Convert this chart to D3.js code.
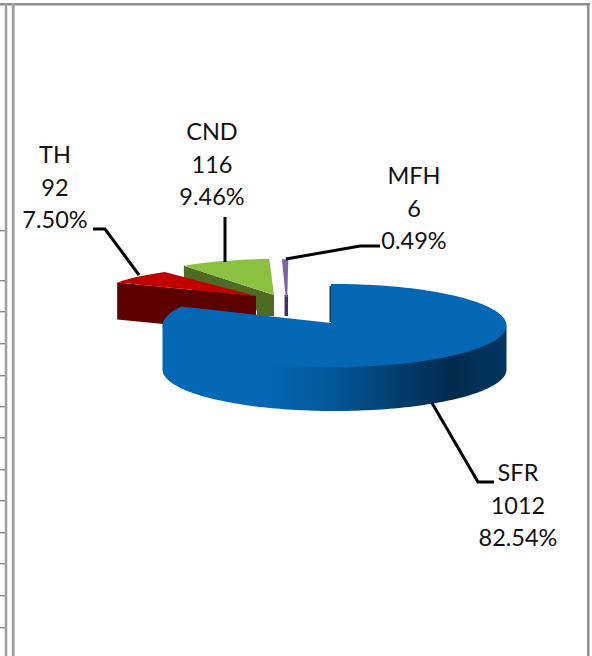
<!DOCTYPE html>
<html><head><meta charset="utf-8">
<script src="https://cdn.jsdelivr.net/npm/d3@7"></script>
<style>html,body{margin:0;padding:0;background:#fff;overflow:hidden}svg{display:block}</style>
</head><body><svg id="c" width="592" height="656"></svg>
<script>
const categories=["SFR","TH","CND","MFH"];
const counts=[1012,92,116,6];
const percents=["82.54%","7.50%","9.46%","0.49%"];
const topColors=["#0367b4","#c00000","#8cc040","#8064a2"];
const wallColors=["url(#w)","#5c0000","#4f6a22","#3f2f5c"];
const gridRows=[230,280,311,343,375,406,437,469,500,532,563,595,627];

const svg=d3.select("#c");
const grad=svg.append("defs").append("linearGradient").attr("id","w");
[[0,"#0367b4"],[.3,"#0367b4"],[.47,"#045a9c"],[.68,"#033e6f"],[.84,"#022a4e"],[1,"#033660"]]
 .forEach(s=>grad.append("stop").attr("offset",s[0]).attr("stop-color",s[1]));

// frame and sheet remnants
const g="#8f8f8f";
svg.append("rect").attr("x",0).attr("y",3).attr("width",590).attr("height",2.5).attr("fill",g);
svg.append("rect").attr("x",4.7).attr("y",3).attr("width",2.6).attr("height",653).attr("fill","#a0a0a0");
svg.append("rect").attr("x",11.7).attr("y",3).attr("width",3).attr("height",653).attr("fill","#a0a0a0");
svg.append("rect").attr("x",587).attr("y",3).attr("width",2.5).attr("height",653).attr("fill",g);
svg.selectAll(".row").data(gridRows).join("rect").attr("x",0).attr("y",d=>d).attr("width",5).attr("height",1.4).attr("fill","#8a8a8a");

const pie=d3.pie().sort(null).value(d=>d)(counts);
// per-slice geometry
const geo=[
 {cx:334.5,cy:325.5,ax:331,ay:323,rx:172,ry:41.5,d:44},
 {cx:256,cy:296,ax:256,ay:296,rx:156,ry:29.5,d:37},
 {cx:274,cy:295,ax:274,ay:295,rx:154,ry:36,d:21},
 {cx:287.5,cy:297,ax:286.5,ay:297,rx:154,ry:37,d:19}
];
const line=d3.line();
function rim(i,a0,a1,yo=0){
  const s=geo[i],n=Math.max(2,Math.ceil((a1-a0)*40));
  return d3.range(n+1).map(k=>{const a=a0+(a1-a0)*k/n;return [s.cx+s.rx*Math.sin(a),s.cy-s.ry*Math.cos(a)+yo];});
}
function topFace(i){const p=pie[i],s=geo[i];
  const lead=i===0?[[s.ax,s.ay],[s.ax,s.cy-s.ry]]:[[s.ax,s.ay]];
  return line([...lead,...rim(i,p.startAngle,p.endAngle)])+"Z";}
function sideWall(i){ // cut face at the start angle of exploded slices
  const p=pie[i],s=geo[i];const o=rim(i,p.startAngle,p.startAngle)[0];
  return line([[s.ax,s.ay],o,[o[0],o[1]+s.d],[s.ax,s.ay+s.d]])+"Z";}
const P=Math.PI;
// MFH
svg.append("path").attr("d",line([[286.3,295],[286.3,316]])).attr("stroke",wallColors[3]).attr("stroke-width",3.5).attr("fill","none");
svg.append("path").attr("d",topFace(3)).attr("fill",topColors[3]).attr("stroke",topColors[3]).attr("stroke-width",1.6);
// CND
svg.append("path").attr("d",sideWall(2)).attr("fill",wallColors[2]);
svg.append("path").attr("d",line([[274,295],[274,316],[257,316],[257,295]])+"Z").attr("fill",wallColors[2]);
svg.append("path").attr("d",topFace(2)).attr("fill",topColors[2]);
// TH
svg.append("path").attr("d",sideWall(1)).attr("fill",wallColors[1]);
svg.append("path").attr("d",topFace(1)).attr("fill",topColors[1]);
// SFR outer wall and inner notch
const front=rim(0,P/2,3*P/2,-1.5);
const wall=[...front,...front.slice().reverse().map(q=>[q[0],q[1]+geo[0].d+1.5])];
svg.append("path").attr("d",line(wall)+"Z").attr("fill",wallColors[0]);
svg.append("path").attr("d",line([[329.5,286],[329.5,322],[331.5,322],[331.5,286]])+"Z").attr("fill","#03406f");
svg.append("path").attr("d",topFace(0)).attr("fill",topColors[0]);

// leaders
const leaders=[
 [[494,482],[478,482],[432,403]],
 [[93,229],[105,229],[139,275]],
 [[225,217],[225,262]],
 [[380,246],[360,246],[286,259]]
];
svg.selectAll(".l").data(leaders).join("path").attr("d",d=>line(d)).attr("fill","none").attr("stroke","#000").attr("stroke-width",3);

// labels
const labelPos=[[518,481],[55,163],[212,140],[414,184]];
categories.forEach((c,i)=>{
  const t=svg.append("text").attr("text-anchor","middle").attr("font-family","Lato,sans-serif").attr("font-size",23.5).attr("fill","#111");
  [c,counts[i],percents[i]].forEach((v,k)=>t.append("tspan").attr("x",labelPos[i][0]).attr("y",labelPos[i][1]+k*32.5).text(v));
});
</script></body></html>
